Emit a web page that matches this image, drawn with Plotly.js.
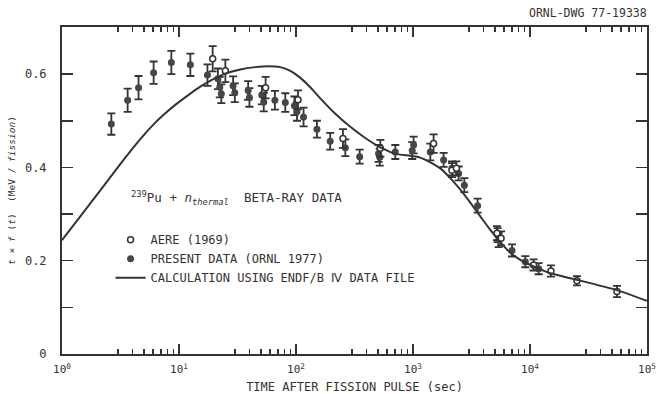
<!DOCTYPE html>
<html>
<head>
<meta charset="utf-8">
<script src="https://cdn.plot.ly/plotly-3.0.1.min.js"></script>
<style>
html,body{margin:0;padding:0;background:#fff;}
#chart{width:658px;height:394px;}
</style>
</head>
<body>
<div id="chart"></div>
<script>
// Calculation (ENDF/B IV) curve
const calcT = [1,1.434,2.125,2.855,3.476,4.232,5.152,6.27,7.64,9.29,12.01,15.2,19.27,24.9,33.4,44.9,58.0,73.4,89.4,108.9,132.5,161.4,216.8,291.2,391,525.6,706,948,1154,1406,1711,2084,2799,3760,4578,5574,6787,8266,10066,14920,25200,55400,100000];
const calcY = [0.244,0.295,0.351,0.393,0.421,0.448,0.473,0.496,0.516,0.534,0.555,0.573,0.588,0.601,0.610,0.615,0.617,0.615,0.607,0.592,0.572,0.548,0.515,0.487,0.463,0.443,0.429,0.425,0.421,0.411,0.398,0.377,0.339,0.295,0.266,0.240,0.217,0.202,0.191,0.173,0.159,0.137,0.114];

// Present data (ORNL 1977)
const ornlT = [2.64,3.64,4.51,6.07,8.6,12.5,17.5,21.5,22.3,23.0,29,30,39,40,51,53,66,81,97,102,116,151,196,264,350,508,520,706,985,1012,1406,1827,2153,2455,2746,3566,5290,5400,7020,9120,11860];
const ornlY = [0.493,0.544,0.571,0.603,0.625,0.620,0.598,0.590,0.572,0.558,0.575,0.560,0.565,0.550,0.555,0.540,0.544,0.539,0.532,0.520,0.508,0.482,0.456,0.442,0.423,0.430,0.422,0.433,0.436,0.448,0.433,0.416,0.398,0.387,0.362,0.318,0.255,0.244,0.222,0.198,0.183];
const ornlErr = [0.023,0.025,0.025,0.024,0.025,0.024,0.023,0.022,0.022,0.020,0.020,0.020,0.020,0.020,0.020,0.020,0.020,0.020,0.020,0.020,0.020,0.018,0.018,0.018,0.015,0.018,0.018,0.015,0.018,0.018,0.018,0.015,0.015,0.015,0.015,0.015,0.015,0.015,0.013,0.012,0.012];

// AERE (1969)
const aereT = [19.4,24.9,55,104,252,526,1500,2153,2350,5220,5660,10730,15100,25200,55400];
const aereY = [0.633,0.607,0.571,0.545,0.462,0.441,0.451,0.394,0.398,0.259,0.248,0.191,0.178,0.157,0.134];
const aereErr = [0.027,0.024,0.023,0.020,0.020,0.018,0.020,0.015,0.015,0.015,0.015,0.012,0.012,0.010,0.012];

// Tick positions and labels
const xTickVals = [1,10,100,1000,10000,100000];
const xTickText = ['10<sup>0</sup>','10<sup>1</sup>','10<sup>2</sup>','10<sup>3</sup>','10<sup>4</sup>','10<sup>5</sup>'];
const xLongTickVals = [2,20,200,2000,20000];
const xMinorVals = [3,4,5,6,7,8,9,30,40,50,60,70,80,90,300,400,500,600,700,800,900,3000,4000,5000,6000,7000,8000,9000,30000,40000,50000,60000,70000,80000,90000];
const yTickVals = [0,0.2,0.4,0.6];
const yTickText = ['0','0.2','0.4','0.6'];
const yMinorVals = [0.1,0.3,0.5];

const ink = '#363232';
const FONT = 'DejaVu Sans Mono, Liberation Mono, monospace';

const traces = [
  {
    x: ornlT, y: ornlY, type: 'scatter', mode: 'markers',
    name: 'PRESENT DATA (ORNL 1977)', legendrank: 2,
    marker: {symbol: 'circle', size: 7, color: '#4a4545'},
    error_y: {type: 'data', array: ornlErr, visible: true, thickness: 1.8, width: 4, color: ink}
  },
  {
    x: aereT, y: aereY, type: 'scatter', mode: 'markers',
    name: 'AERE (1969)', legendrank: 1,
    marker: {symbol: 'circle', size: 6, color: '#ffffff', line: {color: ink, width: 1.5}},
    error_y: {type: 'data', array: aereErr, visible: true, thickness: 1.8, width: 4, color: ink}
  },
  {
    x: calcT, y: calcY, type: 'scatter', mode: 'lines',
    name: 'CALCULATION USING ENDF/B Ⅳ DATA FILE', legendrank: 3,
    line: {color: ink, width: 2, shape: 'spline', smoothing: 0.4}
  }
];

const layout = {
  width: 658, height: 394,
  margin: {l: 62, r: 11, t: 27, b: 40},
  paper_bgcolor: '#ffffff', plot_bgcolor: '#ffffff',
  font: {family: FONT, color: ink, size: 12},
  showlegend: true,
  legend: {
    x: 0.083, y: 0.394, xanchor: 'left', yanchor: 'top',
    bgcolor: 'rgba(0,0,0,0)', borderwidth: 0,
    font: {family: FONT, size: 12, color: ink}
  },
  xaxis: {
    type: 'log', range: [0, 5],
    showgrid: false, zeroline: false,
    showline: true, linecolor: ink, linewidth: 2, mirror: 'ticks',
    ticks: 'inside', ticklen: 10, tickwidth: 1.5, tickcolor: ink,
    tickvals: xTickVals, ticktext: xTickText, ticklabelstandoff: 4,
    tickfont: {family: FONT, size: 11, color: ink},
    minor: {tickvals: xMinorVals, ticks: 'inside', ticklen: 5, tickwidth: 1.5, tickcolor: ink, showgrid: false},
    title: {text: 'TIME AFTER FISSION PULSE (sec)', font: {family: FONT, size: 12, color: ink}, standoff: 9}
  },
  xaxis2: {
    type: 'log', range: [0, 5], overlaying: 'x', anchor: 'y', side: 'bottom',
    showgrid: false, zeroline: false, showline: false, mirror: 'ticks',
    ticks: 'inside', ticklen: 10, tickwidth: 1.5, tickcolor: ink,
    tickvals: xLongTickVals, showticklabels: false
  },
  yaxis: {
    range: [0, 0.701],
    showgrid: false, zeroline: false,
    showline: true, linecolor: ink, linewidth: 2, mirror: 'ticks',
    ticks: 'inside', ticklen: 11, tickwidth: 1.5, tickcolor: ink,
    tickvals: yTickVals, ticktext: yTickText, ticklabelstandoff: 11,
    tickfont: {family: FONT, size: 12, color: ink},
    minor: {tickvals: yMinorVals, ticks: 'inside', ticklen: 11, tickwidth: 1.5, tickcolor: ink, showgrid: false},
    title: {text: '<i>t</i> × <i>f</i> (<i>t</i>)  (MeV / <i>fission</i>)', font: {family: FONT, size: 9.5, color: ink}, standoff: 8}
  },
  annotations: [
    {
      text: 'ORNL-DWG 77-19338', xref: 'paper', yref: 'paper',
      x: 1.003, y: 1.042, xanchor: 'right', yanchor: 'middle', showarrow: false,
      font: {family: FONT, size: 11.5, color: ink}
    },
    {
      text: '<sup>239</sup>Pu + <i>n</i><sub><i>thermal</i></sub>  BETA-RAY DATA', xref: 'paper', yref: 'paper',
      x: 0.115, y: 0.477, xanchor: 'left', yanchor: 'middle', showarrow: false,
      font: {family: FONT, size: 12.5, color: ink}
    }
  ]
};

Plotly.newPlot('chart', traces, layout, {displayModeBar: false, staticPlot: true});
</script>
</body>
</html>
